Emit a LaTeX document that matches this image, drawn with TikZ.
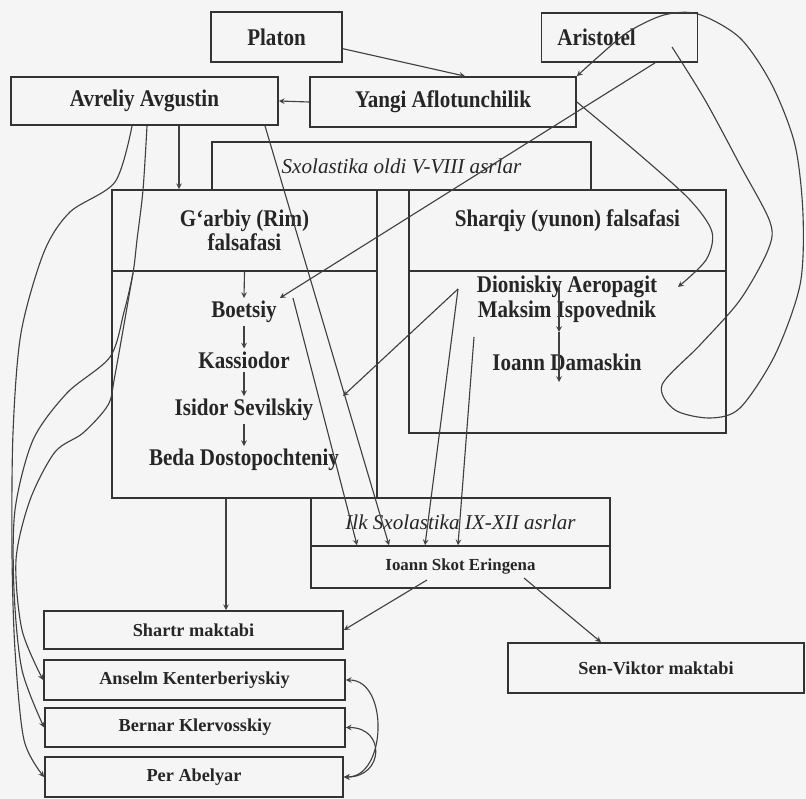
\documentclass[tikz,border=0pt]{standalone}
\usepackage{fontspec}
\setmainfont{Liberation Serif}[FakeStretch=0.88]
\newfontfamily\plainfam{Liberation Serif}
\newcommand{\bigtxt}{\fontsize{17}{17.5}\selectfont\bfseries}
\newcommand{\smalltxt}{\plainfam\fontsize{13}{15}\selectfont\bfseries}
\newcommand{\italtxt}{\plainfam\fontsize{15}{18}\selectfont\itshape}
\begin{document}
\begin{tikzpicture}[x=0.025cm, y=-0.025cm, >=stealth,
	box/.style={draw=black!80, line width=1.2pt, font=\bigtxt, text=black!85, align=center},
	smallbox/.style={box, font=\smalltxt},
	thinker/.style={font=\bigtxt, text=black!85, inner sep=2pt, align=center},
	arrowline/.style={black!75, line width=0.8pt}]
\fill[black!4] (0,0) rectangle (806,799);
\useasboundingbox (0,0) rectangle (806,799);
% Sources
				\node[box, minimum width=3.275cm, minimum height=1.25cm] (platon) at (276.5,37) {Platon};
				\node[box, text width=3.1cm, align=left, inner xsep=0.4cm, minimum height=1.225cm] (aristotel) at (619.5,37.5) {Aristotel};
				\node[box, minimum width=6.675cm, minimum height=1.2cm] (avgustin) at (144.5,101) {Avreliy Avgustin};
				\node[box, minimum width=6.65cm, minimum height=1.25cm] (yangi) at (443,102) {Yangi Aflotunchilik};
% Sxolastika oldi
				\node[box, font=\italtxt, minimum width=9.475cm, minimum height=1.2cm] (oldi) at (401.5,166) {Sxolastika oldi V-VIII asrlar};
				\node[box, minimum width=6.625cm, minimum height=2.025cm] (garbiyhead) at (244.5,230.5) {G`arbiy (Rim)\\falsafasi};
				\node[box, minimum width=6.625cm, minimum height=5.675cm] (garbiybody) at (244.5,384.5) {};
				\node[box, minimum width=7.925cm, minimum height=2.025cm] (sharqiyhead) at (567.5,230.5) {Sharqiy (yunon) falsafasi\\ \phantom{x}};
				\node[box, minimum width=7.925cm, minimum height=4.05cm] (sharqiybody) at (567.5,352) {};
				\node[thinker] (boetsiy) at (244,312) {Boetsiy};
				\node[thinker] (kassiodor) at (244,360) {Kassiodor};
				\node[thinker] (isidor) at (244,410) {Isidor Sevilskiy};
				\node[thinker] (beda) at (244,460) {Beda Dostopochteniy};
				\node[thinker] (dioniskiy) at (567,299) {Dioniskiy Aeropagit\\Maksim Ispovednik};
				\node[thinker] (damaskin) at (567,362) {Ioann Damaskin};
% Ilk Sxolastika
				\node[box, font=\italtxt, minimum width=7.475cm, minimum height=1.2cm] (ilk) at (460.5,522) {Ilk Sxolastika IX-XII asrlar};
				\node[smallbox, font=\smalltxt\fontsize{12}{14}\selectfont, minimum width=7.475cm, minimum height=1.05cm] (ioannskot) at (460.5,567) {Ioann Skot Eringena};
				\node[smallbox, minimum width=7.475cm, minimum height=0.95cm] (shartr) at (193.5,630) {Shartr maktabi};
				\node[smallbox, minimum width=7.525cm, minimum height=1cm] (anselm) at (194.5,680) {Anselm Kenterberiyskiy};
				\node[smallbox, minimum width=7.5cm, minimum height=0.975cm] (bernar) at (195,727.5) {Bernar Klervosskiy};
				\node[smallbox, minimum width=7.45cm, minimum height=1cm] (per) at (194,777) {Per Abelyar};
				\node[smallbox, minimum width=7.4cm, minimum height=1.25cm] (senviktor) at (656,668) {Sen-Viktor maktabi};
				\coordinate (dsplit) at (458,289);
				\coordinate (msplit) at (474,337);
				\coordinate (d0) at (559,287);
				\coordinate (d1) at (559,332);
				\coordinate (d2) at (559,382);
% Straight arrows
				\draw[arrowline, ->] (platon.-10) -- (465,0 |- yangi.north);
				\draw[arrowline, ->] (yangi.west) -- (avgustin.east);
				\draw[arrowline, ->] (179,0 |- avgustin.south) -- (179,0 |- garbiyhead.north);
				\draw[arrowline, ->] (265,0 |- avgustin.south) -- (389,0 |- ioannskot.north);
				\draw[arrowline, ->] (655,0 |- aristotel.south) -- (boetsiy.north east);
				\draw[arrowline, ->] (garbiyhead.south) -- (boetsiy.north);
				\draw[arrowline, ->] (boetsiy) -- (kassiodor);
				\draw[arrowline, ->] (kassiodor) -- (isidor);
				\draw[arrowline, ->] (isidor) -- (beda);
				\draw[arrowline, ->] (293,0 |- boetsiy.north) -- (357,0 |- ioannskot.north);
				\draw[arrowline, ->] (dsplit) -- (343,0 |- isidor.north);
				\draw[arrowline, ->] (dsplit) -- (425,0 |- ioannskot.north);
				\draw[arrowline, ->] (msplit) -- (458,0 |- ioannskot.north);
				\draw[arrowline, ->] (d0) -- (d1);
				\draw[arrowline, ->] (d1) -- (d2);
				\draw[arrowline, ->] (226,0 |- garbiybody.south) -- (226,0 |- shartr.north);
				\draw[arrowline, ->] (427,580) -- (shartr.east);
				\draw[arrowline, ->] (524,578) -- (601,0 |- senviktor.north);
% Curved arrows
				\draw[arrowline, <->] (anselm.east) .. controls +(43,0) and +(43,0) .. (per.east);
				\draw[arrowline, <->] (bernar.east) .. controls +(40,0) and +(40,0) .. (per.east);
				\draw[arrowline, ->] plot[smooth] coordinates {(132,126) (115,182) (70,212) (44,252) (21,333) (13,433) (12,553) (15,650) (24,740) (per.west)};
				\draw[arrowline, ->] plot[smooth] coordinates {(147,126) (143,190) (137,240) (133,273) (124,312) (110,357) (67,393) (33,440) (15,510) (14,590) (22,670) (bernar.west)};
				\draw[arrowline, ->] plot[smooth] coordinates {(133,273) (115,375) (108,405) (83,433) (55,452) (30,500) (16,560) (22,630) (anselm.west)};
				\draw[arrowline, ->] plot[smooth] coordinates {(672,47) (705,100) (740,165) (770,222) (768,250) (740,300) (700,345) (662,385) (675,410) (710,418) (740,408) (775,355) (800,285) (803,215) (795,145) (772,85) (740,38) (698,14) (664,15) (628,32) (598,57) (yangi.north east)};
				\draw[arrowline, ->] plot[smooth] coordinates {(yangi.east) (640,155) (690,200) (712,232) (706,260) (678,287)};
			\end{tikzpicture}
\end{document}
